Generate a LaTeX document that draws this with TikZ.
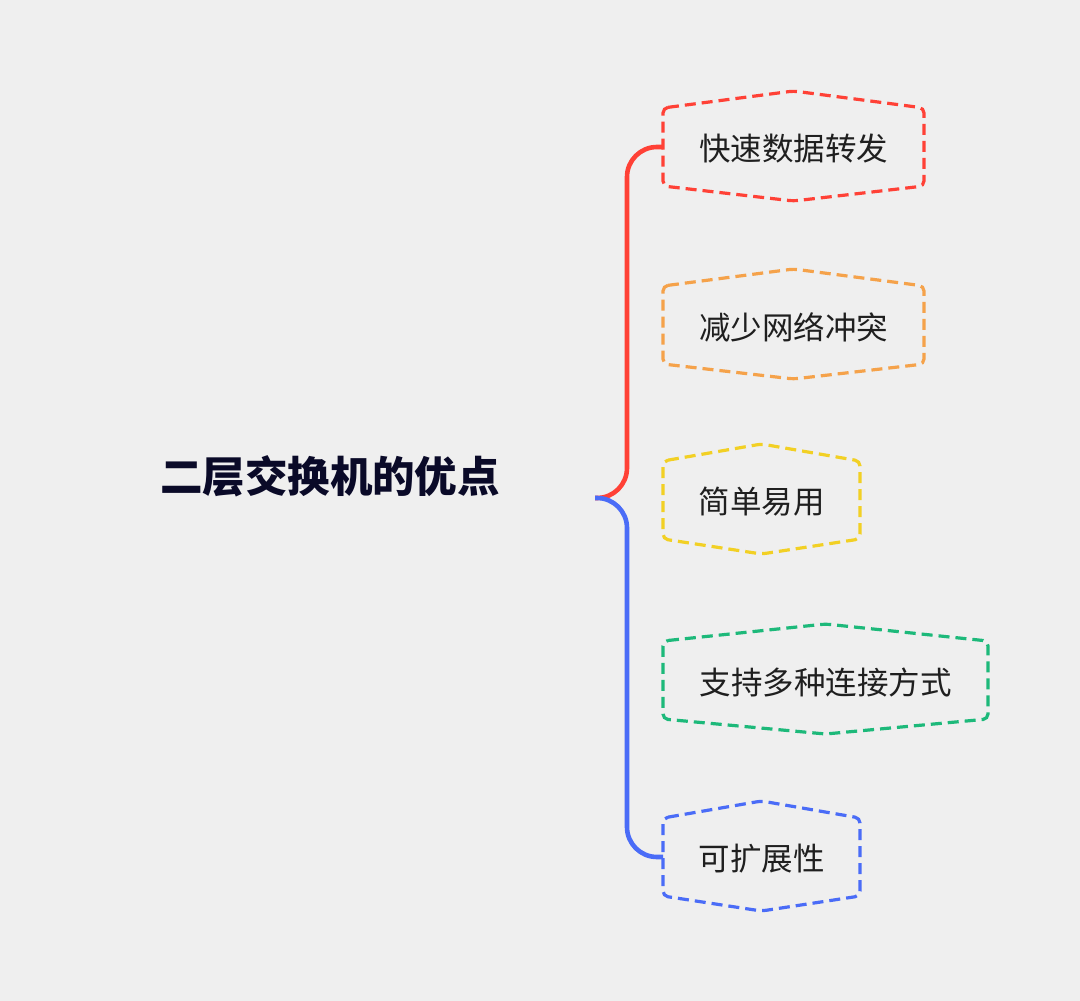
\documentclass[tikz,border=0pt]{standalone}
\usepackage{fontspec}
\newfontfamily\cjk{Noto Sans CJK SC}
\definecolor{bg}{HTML}{EFEFEF}
\definecolor{cR}{HTML}{FF4136}
\definecolor{cO}{HTML}{F5A24A}
\definecolor{cY}{HTML}{F2D024}
\definecolor{cG}{HTML}{1DB97A}
\definecolor{cB}{HTML}{4A6CF7}
\definecolor{tt}{HTML}{0A0A28}
\tikzset{
 hexbox/.style={line width=3.2pt,dash pattern=on 11pt off 6pt,rounded corners=5pt},
 lbl/.style={font=\cjk\fontsize{31.5}{34}\selectfont,text=black!88},
 brace/.style={line width=4.6pt,rounded corners=30pt}
}
\newcommand\hexat[5]{% name,left,right,cy,color
 \draw[hexbox,#5] (#2,#4-39) -- ({(#2+#3)/2},#4-56) -- (#3,#4-39) -- (#3,#4+39) -- ({(#2+#3)/2},#4+54) -- (#2,#4+39) -- cycle;
 \coordinate (#1w) at (#2,#4);}
\begin{document}
\begin{tikzpicture}[x=1pt,y=-1pt]
\fill[bg] (0,0) rectangle (1080,1001);
\useasboundingbox (0,0) rectangle (1080,1001);
\node[font=\cjk\bfseries\fontsize{42.5}{46}\selectfont,text=tt] (title) at (330,476) {二层交换机的优点};
\coordinate (root) at (595,498);
\hexat{a}{663}{924}{147}{cR}
\hexat{b}{663}{924}{325}{cO}
\hexat{c}{663}{860}{500}{cY}
\hexat{d}{663}{988}{680}{cG}
\hexat{e}{663}{860}{857}{cB}
\node[lbl] (ta) at (793.5,149) {快速数据转发};
\node[lbl] (tb) at (793.5,327) {减少网络冲突};
\node[lbl] (tc) at (761.5,502) {简单易用};
\node[lbl] (td) at (825.5,682) {支持多种连接方式};
\node[lbl] (te) at (761.5,859) {可扩展性};
\draw[brace,cR] (root) -- (627,498) -- (627,147) -- (aw);
\draw[brace,cB] (root) -- (627,498) -- (627,857) -- (ew);
\end{tikzpicture}
\end{document}
